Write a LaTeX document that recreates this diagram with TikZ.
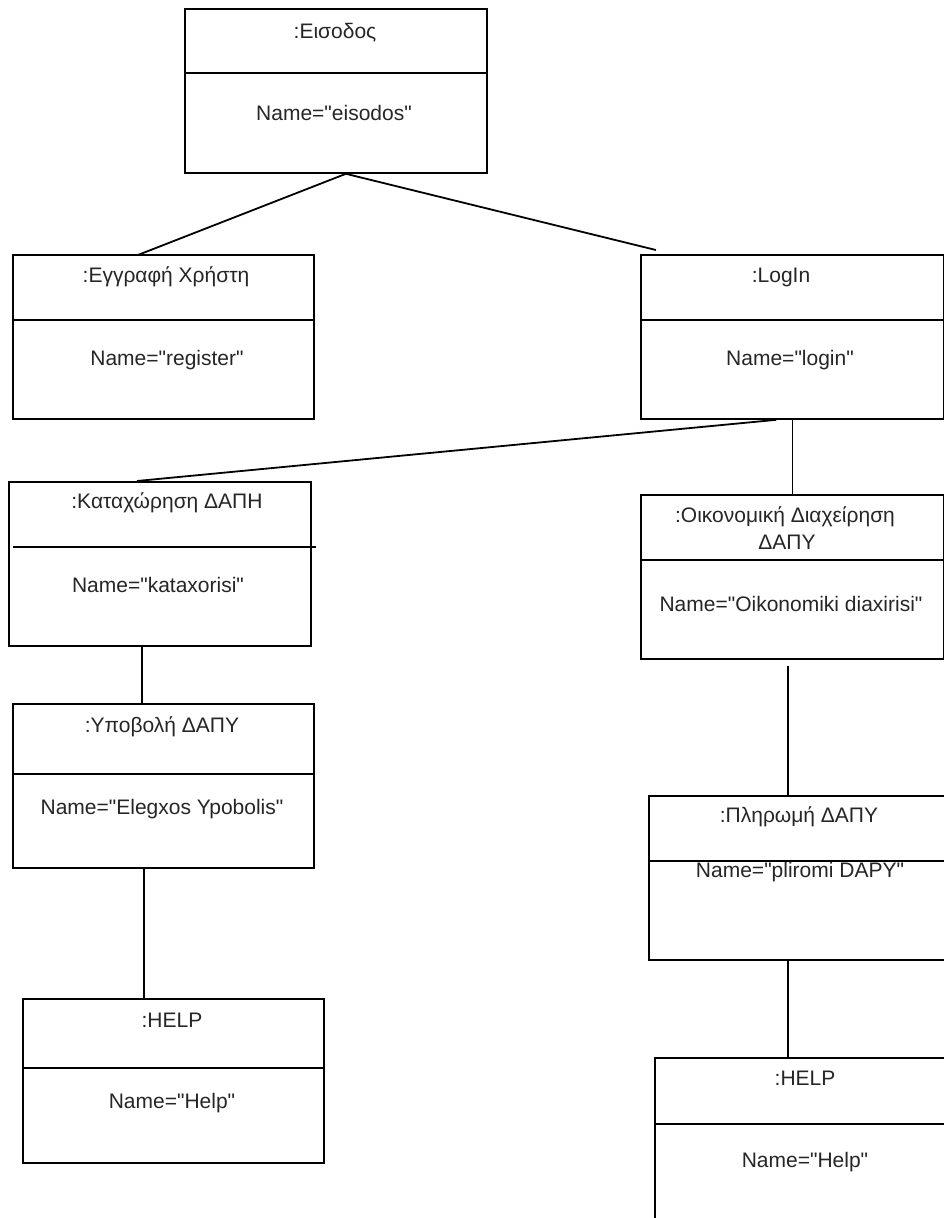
\documentclass[tikz,border=0pt]{standalone}
\usepackage{fontspec}
\setmainfont{Liberation Sans}[Ligatures=TeXOff]
\usetikzlibrary{calc}

\tikzset{
  objbox/.style={draw, line width=1.8pt, anchor=north west, inner sep=0pt},
  divider/.style={line width=1.8pt},
  link/.style={line width=1.8pt},
  lbl/.style={font=\fontsize{21}{24}\selectfont, text=black!85, inner sep=0pt, align=center}
}

\begin{document}
\begin{tikzpicture}[x=1pt, y=-1pt]
\useasboundingbox (0,0) rectangle (944,1218);
\clip (0,0) rectangle (944,1218);
\fill[white] (0,0) rectangle (944,1218);

% object boxes
\node[objbox, minimum width=302pt, minimum height=164pt] (eis)   at (184,8)    {};
\node[objbox, minimum width=301pt, minimum height=164pt] (reg)   at (12,254)   {};
\node[objbox, minimum width=303pt, minimum height=164pt] (login) at (640,254)  {};
\node[objbox, minimum width=302pt, minimum height=164pt] (kat)   at (8,481)    {};
\node[objbox, minimum width=303pt, minimum height=164pt] (oik)   at (640,494)  {};
\node[objbox, minimum width=301pt, minimum height=164pt] (ypo)   at (12,703)   {};
\node[objbox, minimum width=301pt, minimum height=164pt] (help1) at (22,998)   {};
\node[objbox, minimum width=302pt, minimum height=164pt] (pli)   at (648,795)  {};
\node[objbox, minimum width=302pt, minimum height=170pt] (help2) at (654,1057) {};

% compartment dividers
\draw[divider] (eis.west |- 0,73)    -- (eis.east |- 0,73);
\draw[divider] (reg.west |- 0,320)   -- (reg.east |- 0,320);
\draw[divider] (login.west |- 0,320) -- (login.east |- 0,320);
\draw[divider] (13,547) -- (316,547);
\draw[divider] (oik.west |- 0,560)   -- (oik.east |- 0,560);
\draw[divider] (ypo.west |- 0,774)   -- (ypo.east |- 0,774);
\draw[divider] (help1.west |- 0,1068) -- (help1.east |- 0,1068);
\draw[divider] (pli.west |- 0,861)   -- (pli.east |- 0,861);
\draw[divider] (help2.west |- 0,1124) -- (help2.east |- 0,1124);

% labels
\node[lbl] (eisA)   at (335,33)  {:Εισοδος};
\node[lbl] (eisB)   at (334,113) {Name="eisodos"};
\node[lbl] (regA)   at (166,277) {:Εγγραφή Χρήστη};
\node[lbl] (regB)   at (167,360) {Name="register"};
\node[lbl] (loginA) at (781,277) {:LogIn};
\node[lbl] (loginB) at (790,360) {Name="login"};
\node[lbl] (katA)   at (167,503) {:Καταχώρηση ΔΑΠΗ};
\node[lbl] (katB)   at (158,585) {Name="kataxorisi"};
\node[lbl] (oikA)   at (785,517) {:Οικονομική Διαχείρηση};
\node[lbl] (oikA2)  at (787,542) {ΔΑΠΥ};
\node[lbl] (oikB)   at (791,604) {Name="Oikonomiki diaxirisi"};
\node[lbl] (ypoA)   at (162,727) {:Υποβολή ΔΑΠΥ};
\node[lbl] (ypoB)   at (162,809) {Name="Elegxos Ypobolis"};
\node[lbl] (help1A) at (172,1020) {:HELP};
\node[lbl] (help1B) at (172,1103) {Name="Help"};
\node[lbl] (pliA)   at (799,817) {:Πληρωμή ΔΑΠΥ};
\node[lbl] (pliB)   at (800,872) {Name="pliromi DAPY"};
\node[lbl] (help2A) at (805,1078) {:HELP};
\node[lbl] (help2B) at (805,1162) {Name="Help"};

% links (y grows downwards here)
\coordinate (eisHub) at ($(eis.south)+(10,0)$);
\draw[link] (eisHub) -- ($(reg.north)+(-25.5,1)$);
\draw[link] (eisHub) -- ($(login.north)+(-136.5,-4)$);
\draw[link] ($(login.south)+(-16,0)$) -- ($(kat.north)+(-23,0)$);
\draw[link] (login.south) -- (oik.north);
\draw[link] ($(kat.south)+(-18,0)$) -- ($(ypo.north)+(-21.5,0)$);
\draw[link] ($(ypo.south)+(-19.5,0)$) -- ($(help1.north)+(-29.5,0)$);
\draw[link] ($(oik.south)+(-4.5,6)$) -- ($(pli.north)+(-12,0)$);
\draw[link] ($(pli.south)+(-12,0)$) -- ($(help2.north)+(-18,0)$);
\end{tikzpicture}
\end{document}
